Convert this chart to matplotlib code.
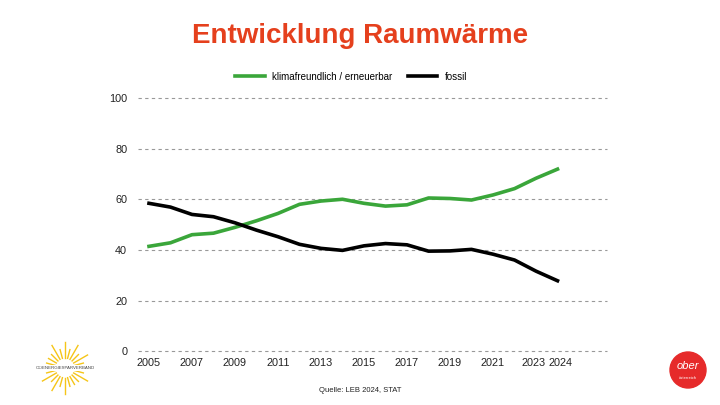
import numpy as np
import matplotlib
matplotlib.use("Agg")
import matplotlib.pyplot as plt
import matplotlib.transforms as mtransforms
from matplotlib.patches import Ellipse

plt.rcParams['font.family'] = ['Liberation Sans', 'DejaVu Sans']

years = list(range(2005, 2025))
klima = [41.4, 42.8, 46.0, 46.6, 48.9, 51.5, 54.4, 58.0, 59.3, 60.0,
         58.4, 57.3, 57.8, 60.5, 60.3, 59.7, 61.7, 64.2, 68.3, 71.9]
fossil = [58.4, 56.9, 54.0, 53.1, 50.7, 47.8, 45.2, 42.2, 40.6, 39.8,
          41.6, 42.5, 42.0, 39.5, 39.6, 40.2, 38.3, 36.0, 31.6, 27.8]
xticks = [2005, 2007, 2009, 2011, 2013, 2015, 2017, 2019, 2021, 2023, 2024]
yticks = [0, 20, 40, 60, 80, 100]

fig = plt.figure(figsize=(7.2, 4.05), dpi=100)
ax = fig.add_axes([0.192, 0.133, 0.651, 0.625])

ax.plot(years, klima, color='#3aa63a', lw=2.6, label='klimafreundlich / erneuerbar')
ax.plot(years, fossil, color='black', lw=2.6, label='fossil')

ax.set_xlim(2004.5, 2026.3)
ax.set_ylim(0, 100)
ax.set_xticks(xticks)
ax.set_yticks(yticks)
ax.tick_params(length=0, labelsize=7.8, colors='#222222')
ax.tick_params(axis='y', pad=8)
ax.tick_params(axis='x', pad=5)
for s in ax.spines.values():
    s.set_visible(False)
ax.yaxis.grid(True, ls=(0, (3, 3)), color='#999999', lw=0.8)
for gl in ax.get_ygridlines():
    gl.set_clip_on(False)
ax.set_axisbelow(True)

# pull the last two year labels apart a bit
labels = ax.get_xticklabels()
labels[-2].set_transform(labels[-2].get_transform() +
                         mtransforms.ScaledTranslation(-2 / 100, 0, fig.dpi_scale_trans))
labels[-1].set_transform(labels[-1].get_transform() +
                         mtransforms.ScaledTranslation(3 / 100, 0, fig.dpi_scale_trans))

ax.legend(loc='lower center', bbox_to_anchor=(0.455, 1.03), ncol=2, frameon=False,
          fontsize=7, handlelength=3, columnspacing=1.6, handletextpad=0.8)

fig.text(0.5, 0.912, 'Entwicklung Raumwärme', ha='center', va='center',
         fontsize=20, fontweight='bold', color='#e5401d')
fig.text(0.5, 0.037, 'Quelle: LEB 2024, STAT', ha='center', va='center',
         fontsize=5.5, color='#222222')

# left logo: sun
cx, cy = 65 / 720, 1 - 368 / 405
for a in np.linspace(0, 2 * np.pi, 24, endpoint=False):
    r0, r1 = 10, 26 if a % (np.pi / 6) < 0.01 else 19
    fig.add_artist(plt.Line2D([cx + r0 * np.cos(a) / 720, cx + r1 * np.cos(a) / 720],
                              [cy + r0 * np.sin(a) / 405, cy + r1 * np.sin(a) / 405],
                              color='#f5c518', lw=1.0))
fig.text(cx, cy, 'OÖENERGIESPARVERBAND', ha='center', va='center', fontsize=3.2,
         color='#444444', bbox=dict(fc='white', ec='none', pad=0.5))

# right logo
fig.add_artist(Ellipse((688 / 720, 1 - 370 / 405), 36 / 720, 36 / 405,
                       transform=fig.transFigure, color='#e62a2a'))
fig.text(688 / 720, 1 - 366 / 405, 'ober', ha='center', va='center', fontsize=8,
         color='white', style='italic')
fig.text(688 / 720, 1 - 378 / 405, 'österreich', ha='center', va='center', fontsize=3,
         color='white')

fig.savefig('out.png', dpi=100)
